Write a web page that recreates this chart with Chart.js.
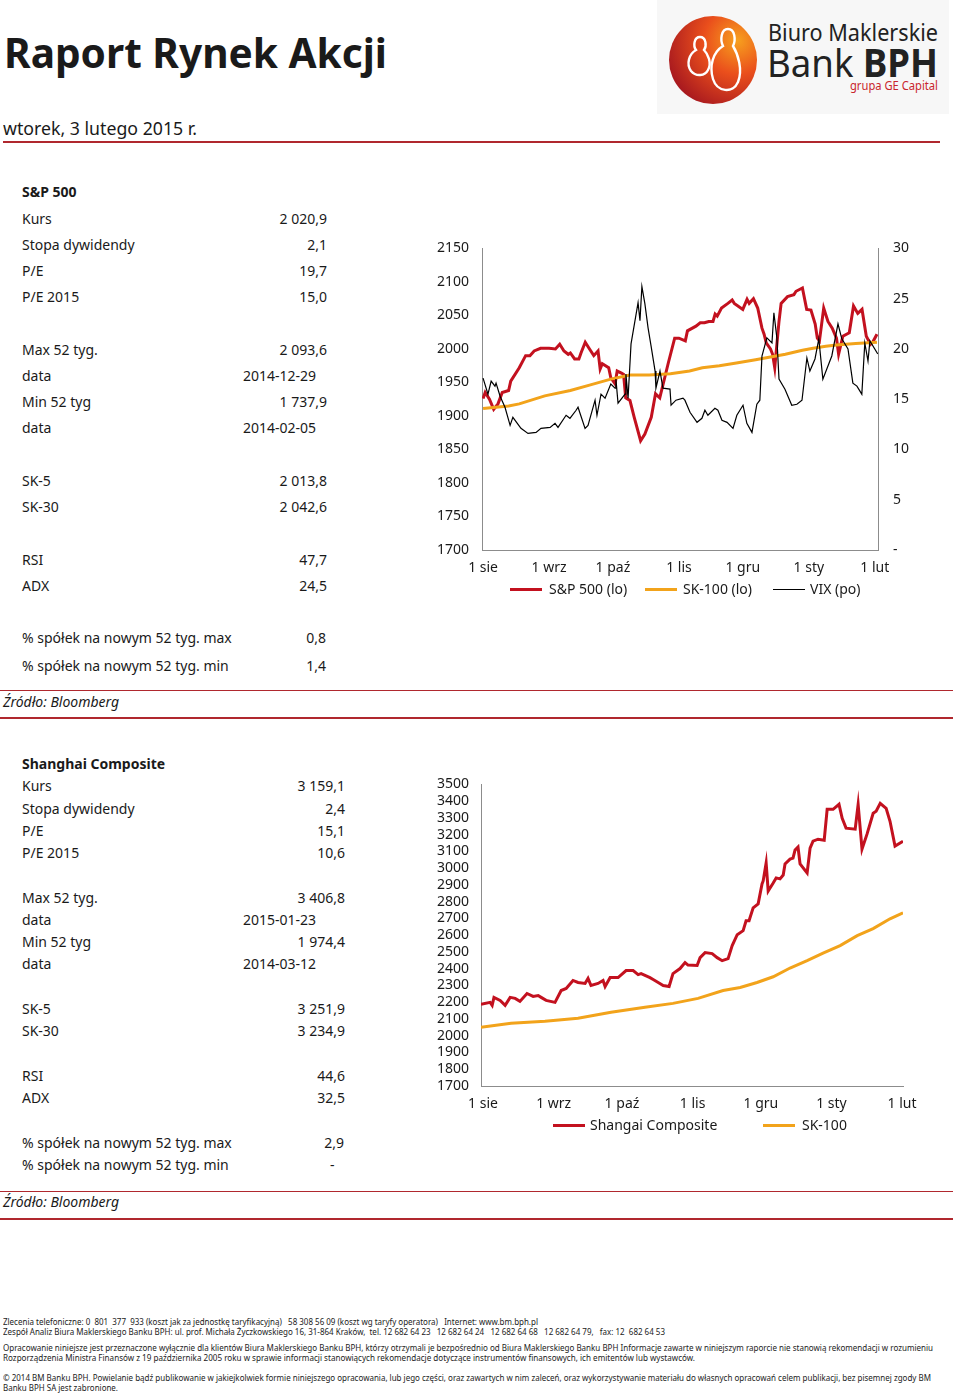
<!DOCTYPE html>
<html>
<head>
<meta charset="utf-8">
<script src="https://cdn.jsdelivr.net/npm/chart.js@4.4.1/dist/chart.umd.min.js"></script>
<style>
body { margin: 0; width: 960px; height: 1395px; background: #fff; font-family: "Noto Sans", sans-serif; color: #1a1a1a; position: relative; overflow: hidden; }
.t { position: absolute; white-space: nowrap; line-height: 20px; font-size: 14px; }
.r { text-align: right; }
.b { font-weight: bold; }
.fit { transform-origin: 0 50%; }
.hr { position: absolute; height: 0; }
.foot { position: absolute; left: 3px; white-space: nowrap; font-size: 8.5px; line-height: 10px; color: #222; transform-origin: 0 50%; }
.legend { position: absolute; white-space: nowrap; font-size: 14px; line-height: 20px; }
.legend span.sw { position: absolute; display: block; width: 32px; }
.legend span.tx { position: absolute; }
canvas { position: absolute; }
</style>
</head>
<body>

<!-- ============================================
     HEADER
     ============================================ -->
<div class="t b fit" id="title" data-w="383" style="left:4px;top:25px;font-size:42px;line-height:54px;">Raport Rynek Akcji</div>
<div class="t fit" data-w="194" style="left:3px;top:116px;font-size:18px;line-height:24px;">wtorek, 3 lutego 2015 r.</div>
<div class="hr" style="left:3px;top:141px;width:937px;border-top:2px solid #b0282e;"></div>

<svg width="292" height="114" style="position:absolute;left:657px;top:0;">
  <defs>
    <radialGradient id="lg" cx="78%" cy="28%" r="85%">
      <stop offset="0" stop-color="#f7a01e"/>
      <stop offset="0.45" stop-color="#ea4f1c"/>
      <stop offset="1" stop-color="#a8191f"/>
    </radialGradient>
  </defs>
  <rect x="0" y="0" width="292" height="114" fill="#f7f7f7"/>
  <circle cx="56" cy="60" r="44" fill="url(#lg)"/>
  <path d="M43,37 C37,37 36,46 39,50 C32,54 29,64 34,71 C39,77 48,76 51,70 C55,63 51,54 47,50 C50,46 49,37 43,37 Z" fill="none" stroke="#fff" stroke-width="2.4"/>
  <path d="M71,29 C64,29 63,40 66,46 C56,52 52,66 56,79 C60,92 76,94 81,82 C86,70 81,54 76,46 C79,40 78,29 71,29 Z" fill="none" stroke="#fff" stroke-width="2.4"/>
  <text x="111" y="41" font-family="Noto Sans" font-size="23" fill="#222" textLength="170" lengthAdjust="spacingAndGlyphs">Biuro Maklerskie</text>
  <text x="110" y="77" font-family="Noto Sans" font-size="39" fill="#222" textLength="171" lengthAdjust="spacingAndGlyphs">Bank <tspan font-weight="bold">BPH</tspan></text>
  <text x="193" y="90" font-family="Noto Sans" font-size="12.5" fill="#c9252c" textLength="88" lengthAdjust="spacingAndGlyphs">grupa GE Capital</text>
</svg>

<!-- ============================================
     TABLE 1 - S&P 500
     ============================================ -->
<div class="t b" style="left:22px;top:182px;">S&amp;P 500</div>
<div class="t" style="left:22px;top:209px;">Kurs</div><div class="t r" style="right:633px;top:209px;">2 020,9</div>
<div class="t" style="left:22px;top:235px;">Stopa dywidendy</div><div class="t r" style="right:633px;top:235px;">2,1</div>
<div class="t" style="left:22px;top:261px;">P/E</div><div class="t r" style="right:633px;top:261px;">19,7</div>
<div class="t" style="left:22px;top:287px;">P/E 2015</div><div class="t r" style="right:633px;top:287px;">15,0</div>
<div class="t" style="left:22px;top:340px;">Max 52 tyg.</div><div class="t r" style="right:633px;top:340px;">2 093,6</div>
<div class="t" style="left:22px;top:366px;">data</div><div class="t" style="left:243px;top:366px;">2014-12-29</div>
<div class="t" style="left:22px;top:392px;">Min 52 tyg</div><div class="t r" style="right:633px;top:392px;">1 737,9</div>
<div class="t" style="left:22px;top:418px;">data</div><div class="t" style="left:243px;top:418px;">2014-02-05</div>
<div class="t" style="left:22px;top:471px;">SK-5</div><div class="t r" style="right:633px;top:471px;">2 013,8</div>
<div class="t" style="left:22px;top:497px;">SK-30</div><div class="t r" style="right:633px;top:497px;">2 042,6</div>
<div class="t" style="left:22px;top:550px;">RSI</div><div class="t r" style="right:633px;top:550px;">47,7</div>
<div class="t" style="left:22px;top:576px;">ADX</div><div class="t r" style="right:633px;top:576px;">24,5</div>
<div class="t" style="left:22px;top:628px;">% spółek na nowym 52 tyg. max</div><div class="t r" style="right:634px;top:628px;">0,8</div>
<div class="t" style="left:22px;top:656px;">% spółek na nowym 52 tyg. min</div><div class="t r" style="right:634px;top:656px;">1,4</div>
<div class="hr" style="left:0;top:690px;width:953px;border-top:1px solid #b0282e;"></div>
<div class="t" style="left:3px;top:692px;font-style:italic;">Źródło: Bloomberg</div>
<div class="hr" style="left:0;top:717px;width:953px;border-top:2px solid #b0282e;"></div>

<canvas id="chart1" width="490" height="355" style="left:430px;top:225px;"></canvas>
<div class="legend" id="leg1" style="left:0;top:579px;">
  <span class="sw" style="left:510px;top:9px;border-top:3px solid #c3111f;"></span><span class="tx" style="left:549px;">S&amp;P 500 (lo)</span>
  <span class="sw" style="left:645px;top:9px;border-top:3px solid #f2a31b;"></span><span class="tx" style="left:683px;">SK-100 (lo)</span>
  <span class="sw" style="left:773px;top:10px;border-top:1px solid #000;"></span><span class="tx" style="left:810px;">VIX (po)</span>
</div>

<!-- ============================================
     TABLE 2 - SHANGHAI
     ============================================ -->
<div class="t b" style="left:22px;top:754px;">Shanghai Composite</div>
<div class="t" style="left:22px;top:776px;">Kurs</div><div class="t r" style="right:615px;top:776px;">3 159,1</div>
<div class="t" style="left:22px;top:799px;">Stopa dywidendy</div><div class="t r" style="right:615px;top:799px;">2,4</div>
<div class="t" style="left:22px;top:821px;">P/E</div><div class="t r" style="right:615px;top:821px;">15,1</div>
<div class="t" style="left:22px;top:843px;">P/E 2015</div><div class="t r" style="right:615px;top:843px;">10,6</div>
<div class="t" style="left:22px;top:888px;">Max 52 tyg.</div><div class="t r" style="right:615px;top:888px;">3 406,8</div>
<div class="t" style="left:22px;top:910px;">data</div><div class="t" style="left:243px;top:910px;">2015-01-23</div>
<div class="t" style="left:22px;top:932px;">Min 52 tyg</div><div class="t r" style="right:615px;top:932px;">1 974,4</div>
<div class="t" style="left:22px;top:954px;">data</div><div class="t" style="left:243px;top:954px;">2014-03-12</div>
<div class="t" style="left:22px;top:999px;">SK-5</div><div class="t r" style="right:615px;top:999px;">3 251,9</div>
<div class="t" style="left:22px;top:1021px;">SK-30</div><div class="t r" style="right:615px;top:1021px;">3 234,9</div>
<div class="t" style="left:22px;top:1066px;">RSI</div><div class="t r" style="right:615px;top:1066px;">44,6</div>
<div class="t" style="left:22px;top:1088px;">ADX</div><div class="t r" style="right:615px;top:1088px;">32,5</div>
<div class="t" style="left:22px;top:1133px;">% spółek na nowym 52 tyg. max</div><div class="t r" style="right:616px;top:1133px;">2,9</div>
<div class="t" style="left:22px;top:1155px;">% spółek na nowym 52 tyg. min</div><div class="t" style="left:330px;top:1155px;">-</div>
<div class="hr" style="left:0;top:1191px;width:953px;border-top:1px solid #b0282e;"></div>
<div class="t" style="left:3px;top:1192px;font-style:italic;">Źródło: Bloomberg</div>
<div class="hr" style="left:0;top:1218px;width:953px;border-top:2px solid #b0282e;"></div>

<canvas id="chart2" width="500" height="352" style="left:430px;top:764px;"></canvas>
<div class="legend" id="leg2" style="left:0;top:1115px;">
  <span class="sw" style="left:553px;top:9px;border-top:3px solid #c3111f;"></span><span class="tx" style="left:590px;">Shangai Composite</span>
  <span class="sw" style="left:763px;top:9px;border-top:3px solid #f2a31b;"></span><span class="tx" style="left:802px;">SK-100</span>
</div>

<!-- ============================================
     FOOTER
     ============================================ -->
<div class="foot" data-w="535" style="top:1317px;">Zlecenia telefoniczne: 0&nbsp; 801&nbsp; 377&nbsp; 933 (koszt jak za jednostkę taryfikacyjną)&nbsp;&nbsp; 58 308 56 09 (koszt wg taryfy operatora)&nbsp;&nbsp; Internet: www.bm.bph.pl</div>
<div class="foot" data-w="662" style="top:1327px;">Zespół Analiz Biura Maklerskiego Banku BPH: ul. prof. Michała Życzkowskiego 16, 31-864 Kraków,&nbsp; tel. 12 682 64 23&nbsp;&nbsp; 12 682 64 24&nbsp;&nbsp; 12 682 64 68&nbsp;&nbsp; 12 682 64 79,&nbsp;&nbsp; fax: 12&nbsp; 682 64 53</div>
<div class="foot" data-w="930" style="top:1343px;">Opracowanie niniejsze jest przeznaczone wyłącznie dla klientów Biura Maklerskiego Banku BPH, którzy otrzymali je bezpośrednio od Biura Maklerskiego Banku BPH Informacje zawarte w niniejszym raporcie nie stanowią rekomendacji w rozumieniu</div>
<div class="foot" data-w="692" style="top:1353px;">Rozporządzenia Ministra Finansów z 19 października 2005 roku w sprawie informacji stanowiących rekomendacje dotyczące instrumentów finansowych, ich emitentów lub wystawców.</div>
<div class="foot" data-w="928" style="top:1373px;">© 2014 BM Banku BPH. Powielanie bądź publikowanie w jakiejkolwiek formie niniejszego opracowania, lub jego części, oraz zawartych w nim zaleceń, oraz wykorzystywanie materiału do własnych opracowań celem publikacji, bez pisemnej zgody BM</div>
<div class="foot" data-w="115" style="top:1383px;">Banku BPH SA jest zabronione.</div>

<script>
// ============================================
// DATA (x = days since 1 Aug 2014)
// ============================================

const monthTicks = [0, 31, 61, 92, 122, 153, 184];
const monthLabels = ['1 sie', '1 wrz', '1 paź', '1 lis', '1 gru', '1 sty', '1 lut'];

// --- chart 1: S&P 500, SK-100 (left axis), VIX (right axis)
const spDays = [0, 1, 3, 5, 7, 9, 12, 13, 17, 20, 22, 24, 27, 31, 34, 36, 38, 40, 41, 43, 45, 46, 48, 50, 52, 54, 55, 56, 59, 60,
    62, 63, 65, 66, 67, 69, 71, 74, 76, 79, 81, 83, 87, 90, 92, 95, 96, 100, 102, 104, 106, 108, 109, 110, 112, 115, 117, 118, 122, 124,
    125, 127, 129, 131, 132, 133, 135, 136, 137, 139, 140, 143, 146, 147, 150, 152, 154, 156, 157, 158, 160, 162, 164, 166, 167, 169, 172, 174, 176, 178,
    180, 182, 183, 185];
const spVals = [1926, 1935, 1925, 1910, 1918, 1935, 1938, 1952, 1972, 1990, 1990, 1997, 2001, 2001, 2000, 2007, 1997, 1992, 1994, 1985, 1985, 1994, 2010, 2000, 1990, 1997, 1970, 1978, 1972, 1957,
    1948, 1967, 1964, 1962, 1927, 1923, 1898, 1863, 1873, 1898, 1933, 1927, 1979, 2016, 2016, 2012, 2027, 2034, 2039, 2039, 2041, 2041, 2052, 2049, 2061, 2068, 2073, 2068, 2059, 2074,
    2068, 2075, 2061, 2031, 2022, 2009, 2000, 1992, 1972, 2041, 2068, 2078, 2081, 2086, 2091, 2059, 2058, 2037, 2016, 2012, 2061, 2041, 2031, 2016, 1992, 2019, 2024, 2064, 2053, 2059,
    2019, 2007, 2010, 2022];

const sk1Days = [0, 6, 12, 17, 29, 41, 50, 60, 69, 78, 88, 97, 103, 111, 119, 128, 135, 142, 150, 155, 161, 166, 175, 185];
const sk1Vals = [1911, 1913, 1915, 1918, 1930, 1938, 1946, 1955, 1961, 1961, 1963, 1967, 1972, 1975, 1979, 1984, 1988, 1992, 1998, 2001, 2004, 2006, 2008, 2010];

const vixDays = [0, 2.3, 3.8, 5.6, 6.1, 8, 10.3, 12.7, 14, 17.8, 21.1, 24.9, 27.2, 31.5, 33.8, 35.2, 39, 40.8, 43.7, 44.6,
    47.9, 49.3, 52.6, 53.5, 55.4, 57.3, 60, 62, 62.4, 63.4, 66.7, 67.1, 68.1, 69.5, 72.8, 73.7, 74.6, 76, 77.5, 78.9,
    80.8, 81.2, 83.1, 84.5, 87.8, 88.3, 90.6, 93.9, 94.8, 97.2, 100.5, 102.8, 104.2, 105.6, 108.9, 110.3, 112.2, 114.6, 117.4, 119.2,
    122.1, 123.9, 126.3, 128.6, 130, 131, 133.3, 135.7, 136.6, 138, 139, 141.8, 145, 147.4, 149.8, 152.1, 153.5, 155.9, 157.7, 159.6,
    163.8, 166.7, 168.5, 171.4, 173.7, 175.6, 177.9, 179.3, 180.8, 181.7, 185.4];
const vixVals = [17.1, 15.5, 16.8, 16.3, 16.6, 15.3, 14.2, 12.4, 13.2, 12.1, 11.6, 11.7, 12.1, 12.2, 12.6, 12.2, 13.4, 13.1, 13.9, 14.2,
    12.1, 12.4, 14.9, 13.4, 15.5, 15.1, 16.5, 16.1, 17.0, 14.6, 15.5, 17.5, 15.1, 20.5, 24.6, 22.8, 26.2, 24.5, 22.1, 20.3,
    17.8, 16.1, 17.8, 16.1, 16.0, 14.4, 14.9, 15.1, 14.9, 13.7, 12.7, 13.1, 13.9, 13.4, 14.1, 13.9, 12.9, 12.7, 12.1, 13.4,
    14.4, 12.6, 11.7, 14.5, 14.9, 19.3, 21.1, 20.6, 23.6, 21.1, 17.0, 16.0, 14.4, 14.5, 14.9, 19.1, 17.8, 19.0, 21.0, 17.0,
    19.3, 22.5, 21.0, 20.0, 16.6, 16.3, 15.5, 20.6, 18.8, 20.8, 19.5];

// --- chart 2: Shanghai Composite, SK-100
const shDays = [-0.9, 3.1, 4.0, 4.8, 7.5, 9.7, 11.9, 14.1, 16.2, 19.3, 22.0, 24.2, 25.5, 27.7, 31.6, 34.3, 36.5, 39.5, 41.7, 44.8,
    46.1, 47.4, 50.5, 52.7, 53.6, 55.8, 59.3, 62.8, 65.9, 68.1, 69.4, 73.3, 74.7, 76.9, 79.1, 81.7, 83.4, 86.5, 88.7, 90.0,
    94.0, 95.3, 97.5, 100.6, 102.8, 105.0, 107.6, 109.4, 111.6, 114.2, 115.5, 116.8, 118.6, 120.8, 122.5, 123.0, 124.3, 125.2, 127.4, 128.7,
    130.4, 131.8, 132.6, 134.8, 136.1, 137.0, 138.3, 139.2, 142.3, 143.6, 144.9, 147.1, 149.8, 151.1, 153.7, 156.3, 157.7, 159.4, 163.4, 164.7,
    166.4, 168.6, 171.3, 172.6, 174.4, 177.0, 178.7, 180.9, 184.4];
const shVals = [2187, 2199, 2181, 2229, 2211, 2181, 2229, 2223, 2205, 2252, 2235, 2240, 2229, 2211, 2199, 2270, 2282, 2330, 2318, 2312,
    2342, 2300, 2312, 2330, 2294, 2347, 2347, 2389, 2389, 2365, 2371, 2347, 2336, 2318, 2300, 2294, 2371, 2401, 2437, 2422,
    2419, 2466, 2496, 2490, 2466, 2448, 2460, 2538, 2603, 2627, 2686, 2686, 2763, 2787, 2906, 2924, 3031, 2864, 2912, 2942,
    2936, 2959, 3025, 3054, 3060, 3108, 3126, 3025, 2971, 3120, 3161, 3173, 3167, 3351, 3351, 3381, 3298, 3239, 3233, 3381,
    3114, 3203, 3328, 3340, 3387, 3357, 3280, 3132, 3161];

const sk2Days = [-0.9, 12.3, 27.2, 41.7, 56.2, 71.1, 83.4, 94.4, 105.4, 112.9, 120.3, 127.4, 134.8, 142.3, 149.3, 156.8, 164.3, 171.3, 178.7, 184.4];
const sk2Vals = [2050, 2074, 2086, 2104, 2140, 2170, 2193, 2223, 2270, 2288, 2318, 2352, 2404, 2448, 2493, 2538, 2597, 2639, 2698, 2734];

// ============================================
// HELPERS
// ============================================

const RED = '#c3111f';
const ORANGE = '#f2a31b';
const AXIS = '#8c8c8c';
const TXT = '#1a1a1a';

Chart.defaults.font.family = '"Noto Sans", sans-serif';
Chart.defaults.font.size = 14;
Chart.defaults.color = TXT;

function pts(days, vals) {
    return days.map((d, i) => ({ x: d, y: vals[i] }));
}

function lineSet(label, days, vals, color, width, extra) {
    return Object.assign({
        label: label,
        data: pts(days, vals),
        borderColor: color,
        backgroundColor: color,
        borderWidth: width,
        pointRadius: 0,
        tension: 0,
        fill: false
    }, extra || {});
}

function monthAxis(min, max) {
    return {
        type: 'linear',
        min: min,
        max: max,
        grid: { display: false, drawTicks: false },
        border: { display: true, color: AXIS, width: 1 },
        afterBuildTicks: s => { s.ticks = monthTicks.map(v => ({ value: v })); },
        afterFit: s => { s.height = 30; },
        ticks: {
            autoSkip: false,
            maxRotation: 0,
            padding: 10,
            callback: v => monthLabels[monthTicks.indexOf(v)]
        }
    };
}

// plain numbers, no thousands separator
const plain = v => String(v);

// ============================================
// CHART 1
// ============================================

new Chart(document.getElementById('chart1'), {
    type: 'line',
    data: {
        datasets: [
            lineSet('VIX (po)', vixDays, vixVals, '#000', 1.2, { yAxisID: 'y1', order: 0 }),
            lineSet('SK-100 (lo)', sk1Days, sk1Vals, ORANGE, 3, { yAxisID: 'y', order: 1 }),
            lineSet('S&P 500 (lo)', spDays, spVals, RED, 3, { yAxisID: 'y', order: 2 })
        ]
    },
    options: {
        responsive: false,
        animation: false,
        layout: { padding: { top: 8, left: 0, right: 0, bottom: 0 } },
        plugins: { legend: { display: false }, tooltip: { enabled: false } },
        scales: {
            x: monthAxis(-0.5, 185.5),
            y: {
                position: 'left',
                min: 1700, max: 2150,
                grid: { display: false, drawTicks: false },
                border: { display: true, color: AXIS, width: 1 },
                afterFit: s => { s.width = 52; },
                ticks: { stepSize: 50, padding: 13, autoSkip: false, callback: plain }
            },
            y1: {
                position: 'right',
                min: 0, max: 30,
                grid: { display: false, drawTicks: false },
                border: { display: true, color: AXIS, width: 1 },
                afterFit: s => { s.width = 42; },
                ticks: { stepSize: 5, padding: 15, autoSkip: false, callback: v => v === 0 ? '-' : String(v) }
            }
        }
    }
});

// ============================================
// CHART 2
// ============================================

new Chart(document.getElementById('chart2'), {
    type: 'line',
    data: {
        datasets: [
            lineSet('Shangai Composite', shDays, shVals, RED, 3, { order: 0 }),
            lineSet('SK-100', sk2Days, sk2Vals, ORANGE, 3, { order: 1 })
        ]
    },
    options: {
        responsive: false,
        animation: false,
        layout: { padding: { top: 5, left: 0, right: 27, bottom: 0 } },
        plugins: { legend: { display: false }, tooltip: { enabled: false } },
        scales: {
            x: monthAxis(-0.9, 184.4),
            y: {
                position: 'left',
                min: 1700, max: 3500,
                grid: { display: false, drawTicks: false },
                border: { display: true, color: AXIS, width: 1 },
                afterFit: s => { s.width = 51; },
                ticks: { stepSize: 100, padding: 12, autoSkip: false, callback: plain }
            }
        }
    }
});

// ============================================
// FIT TEXT WIDTHS
// ============================================

document.querySelectorAll('[data-w]').forEach(el => {
    el.style.display = 'inline-block';
    const w = el.getBoundingClientRect().width;
    const target = parseFloat(el.dataset.w);
    if (w > 0) el.style.transform = 'scaleX(' + (target / w).toFixed(4) + ')';
});
</script>
</body>
</html>
